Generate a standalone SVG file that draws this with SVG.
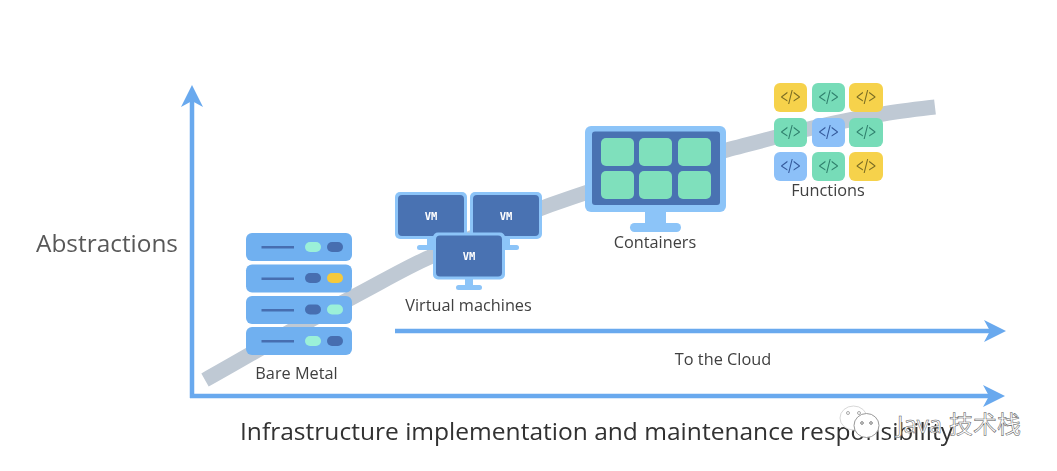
<svg xmlns="http://www.w3.org/2000/svg" width="1057" height="471" viewBox="0 0 1057 471">
<style>
.t{font-family:"Open Sans","Noto Sans","Liberation Sans",sans-serif;fill:#404040}
.l{font-size:16.300px;text-anchor:middle}
.u{fill:#6fb0f0}.dk{fill:#466eb0}.mint{fill:#9bf0d8}.lb{fill:#8cc4f8}.in{fill:#4a72b2}.ce{fill:#7fe0bc}
.vmt{font-family:"DejaVu Sans Mono","Liberation Mono",monospace;font-size:10.500px;font-weight:700;fill:#fff;text-anchor:middle}
.fc{font-family:"Open Sans","Liberation Sans",sans-serif;font-size:20px;text-anchor:middle}
.y{fill:#f6d24c}.g{fill:#77dcb8}.b{fill:#8cc0f8}
.ax{fill:none;stroke:#69a9ee;stroke-width:4.500}
</style>
<defs>
<filter id="soft" x="-2%" y="-2%" width="104%" height="104%"><feGaussianBlur stdDeviation="0.55"/></filter>
<marker id="arr" markerUnits="userSpaceOnUse" markerWidth="24" markerHeight="24" refX="6" refY="12" orient="auto">
<path d="M0,1 L22,12 L0,23 L6,12 Z" fill="#69a9ee"/></marker>
<g id="srv"><rect x="246" y="0" width="106" height="28" rx="6" class="u"/><rect x="261.500" y="13" width="32.500" height="2.500" class="dk"/></g>
<g id="mon"><rect x="-36" y="-23.500" width="72" height="47" rx="5" class="lb"/><rect x="-33" y="-20.500" width="66" height="41" rx="4" class="in"/></g>
</defs>
<rect width="1057" height="471" fill="#fff"/>
<g filter="url(#soft)">
<path id="curve" d="M205,380 C255,352 305,322 353,297 C380,283 405,268 430,257 C470,238 510,220 550,205 C610,184 670,165 727,150 C780,136 830,122 883,114 C900,111 918,109 935,107" fill="none" stroke="#bfc9d4" stroke-width="15"/>
<g id="connectors">
<path class="ax" d="M192,398 V101" marker-end="url(#arr)"/>
<path class="ax" d="M190,396 H989" marker-end="url(#arr)"/>
<path class="ax" d="M395,331 H990" marker-end="url(#arr)"/>
</g>
<g id="bare-metal">
<use href="#srv" y="233"/><use href="#srv" y="264.500"/><use href="#srv" y="296"/><use href="#srv" y="327"/>
<rect x="305" y="242" width="16" height="10" rx="5" class="mint"/><rect x="327" y="242" width="16" height="10" rx="5" class="dk"/>
<rect x="305" y="273" width="16" height="10" rx="5" class="dk"/><rect x="327" y="273" width="16" height="10" rx="5" fill="#f4c93e"/>
<rect x="305" y="304.500" width="16" height="10" rx="5" class="dk"/><rect x="327" y="304.500" width="16" height="10" rx="5" class="mint"/>
<rect x="305" y="336" width="16" height="10" rx="5" class="mint"/><rect x="327" y="336" width="16" height="10" rx="5" class="dk"/>
<text class="t l" x="296.500" y="378.500">Bare Metal</text>
</g>
<g id="virtual-machines">
<rect x="427" y="239" width="8" height="8" class="lb"/><rect x="417" y="245" width="26" height="5" rx="2.500" class="lb"/>
<rect x="502" y="239" width="8" height="8" class="lb"/><rect x="493" y="245" width="26" height="5" rx="2.500" class="lb"/>
<use href="#mon" x="431" y="215.500"/><use href="#mon" x="506" y="215.500"/>
<text class="vmt" x="431" y="220">VM</text><text class="vmt" x="506" y="220">VM</text>
<rect x="465" y="278" width="8" height="9" class="lb"/><rect x="456" y="285" width="26" height="5" rx="2.500" class="lb"/>
<use href="#mon" x="469" y="256"/>
<text class="vmt" x="469" y="260">VM</text>
<text class="t l" x="468.500" y="310.500">Virtual machines</text>
</g>
<g id="containers">
<rect x="645" y="211" width="21" height="14" class="lb"/><rect x="630" y="223" width="51" height="9" rx="4.500" class="lb"/>
<rect x="585" y="126" width="141" height="86" rx="6" class="lb"/><rect x="592" y="131.500" width="128" height="73.500" rx="3" class="in"/>
<rect x="601" y="138" width="33" height="28" rx="5" class="ce"/><rect x="639" y="138" width="33" height="28" rx="5" class="ce"/><rect x="678" y="138" width="33" height="28" rx="5" class="ce"/>
<rect x="601" y="171" width="33" height="28" rx="5" class="ce"/><rect x="639" y="171" width="33" height="28" rx="5" class="ce"/><rect x="678" y="171" width="33" height="28" rx="5" class="ce"/>
<text class="t l" x="655" y="247.500">Containers</text>
</g>
<g id="functions">
<rect x="774" y="83" width="33" height="29" rx="6" class="y"/><rect x="812" y="83" width="33" height="29" rx="6" class="g"/><rect x="849" y="83" width="34" height="29" rx="6" class="y"/>
<rect x="774" y="118" width="33" height="29" rx="6" class="g"/><rect x="812" y="118" width="33" height="29" rx="6" class="b"/><rect x="849" y="118" width="34" height="29" rx="6" class="g"/>
<rect x="774" y="152" width="33" height="29" rx="6" class="b"/><rect x="812" y="152" width="33" height="29" rx="6" class="g"/><rect x="849" y="152" width="34" height="29" rx="6" class="y"/>
<text class="fc" x="790.500" y="104" fill="#7a6c24" textLength="20" lengthAdjust="spacingAndGlyphs">&lt;/&gt;</text><text class="fc" x="828.500" y="104" fill="#2f7f6c" textLength="20" lengthAdjust="spacingAndGlyphs">&lt;/&gt;</text><text class="fc" x="866" y="104" fill="#7a6c24" textLength="20" lengthAdjust="spacingAndGlyphs">&lt;/&gt;</text>
<text class="fc" x="790.500" y="139" fill="#2f7f6c" textLength="20" lengthAdjust="spacingAndGlyphs">&lt;/&gt;</text><text class="fc" x="828.500" y="139" fill="#34589a" textLength="20" lengthAdjust="spacingAndGlyphs">&lt;/&gt;</text><text class="fc" x="866" y="139" fill="#2f7f6c" textLength="20" lengthAdjust="spacingAndGlyphs">&lt;/&gt;</text>
<text class="fc" x="790.500" y="173" fill="#34589a" textLength="20" lengthAdjust="spacingAndGlyphs">&lt;/&gt;</text><text class="fc" x="828.500" y="173" fill="#2f7f6c" textLength="20" lengthAdjust="spacingAndGlyphs">&lt;/&gt;</text><text class="fc" x="866" y="173" fill="#7a6c24" textLength="20" lengthAdjust="spacingAndGlyphs">&lt;/&gt;</text>
<text class="t l" x="828" y="196">Functions</text>
</g>
<text class="t" x="36" y="252" font-size="24" textLength="142" lengthAdjust="spacingAndGlyphs" style="fill:#595959">Abstractions</text>
<text class="t" x="240" y="440" font-size="24.500" textLength="713" lengthAdjust="spacingAndGlyphs" style="fill:#303030">Infrastructure implementation and maintenance responsibility</text>
<text class="t l" x="723" y="365">To the Cloud</text>
</g>
<g id="watermark">
<ellipse cx="853.500" cy="418" rx="13.500" ry="12" fill="#fff" stroke="#d8d8d8" stroke-width="1"/>
<ellipse cx="866.500" cy="425.500" rx="12.500" ry="12" fill="#fff" stroke="#999" stroke-width="1"/>
<circle cx="848" cy="413" r="1.500" fill="none" stroke="#aaa"/><circle cx="859" cy="413" r="1.500" fill="none" stroke="#aaa"/>
<circle cx="862" cy="423" r="1.300" fill="none" stroke="#777"/><circle cx="871" cy="423" r="1.300" fill="none" stroke="#777"/>
<text x="897" y="433" font-family="'Open Sans','Noto Sans CJK SC',sans-serif" font-size="24" fill="#fff" stroke="#555" stroke-width="0.500">Java<tspan x="949" font-family="'Noto Sans CJK SC',sans-serif">技术栈</tspan></text>
</g>
</svg>
